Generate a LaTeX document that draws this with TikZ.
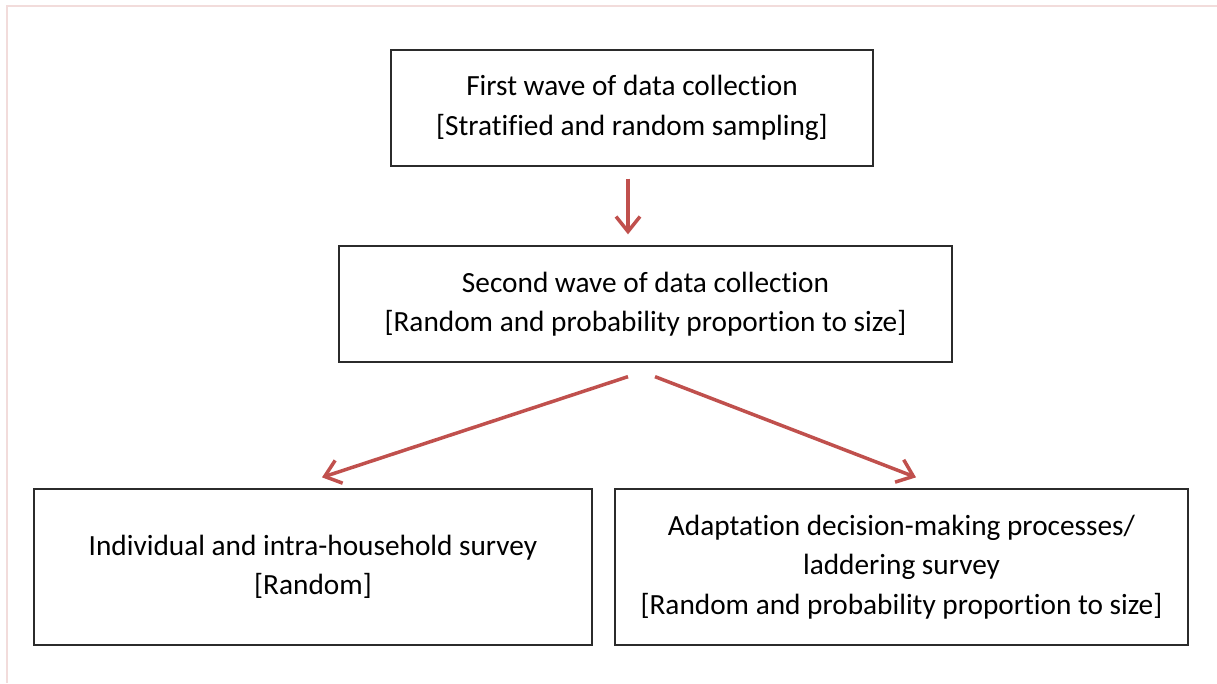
\documentclass[tikz,border=0pt]{standalone}
\usepackage{fontspec}
\setmainfont{Carlito}[Ligatures={NoCommon}]
\usetikzlibrary{arrows.meta,calc}
\definecolor{arrred}{HTML}{C0504D}
\definecolor{framepink}{HTML}{F2DCDB}
\definecolor{boxline}{HTML}{2B2B2B}
\begin{document}
\begin{tikzpicture}[x=1pt,y=-1pt,
  box/.style={draw=boxline,line width=1.3pt,align=center,inner sep=0pt,
    font=\fontsize{29.3}{39.5}\selectfont},
  arr/.style={draw=arrred,line width=3.5pt,-{Straight Barb[length=15pt,width=24pt]}}]
\useasboundingbox (0,0) rectangle (1217,683);
\draw[framepink,line width=2.2pt] (7,683) -- (7,6) -- (1217,6);
\node[box,minimum width=482pt,minimum height=116pt] (b1) at (632,108)
  {First wave of data collection\\{[Stratified and random sampling]}};
\node[box,minimum width=613pt,minimum height=116pt] (b2) at (645.5,304)
  {Second wave of data collection\\{[Random and probability proportion to size]}};
\node[box,minimum width=558pt,minimum height=156pt] (b3) at (313,567)
  {Individual and intra-household survey\\{[Random]}};
\node[box,minimum width=573pt,minimum height=156pt] (b4) at (901.5,567)
  {Adaptation decision-making processes/\\laddering survey\\{[Random and probability proportion to size]}};
\draw[arr] ([xshift=-4pt,yshift=-12pt]b1.south) -- ([xshift=-17.5pt,yshift=11pt]b2.north);
\draw[arr] ([xshift=-17.5pt,yshift=-14pt]b2.south) -- ([xshift=9pt,yshift=11pt]b3.north);
\draw[arr] ([xshift=9.5pt,yshift=-14pt]b2.south) -- ([xshift=14.5pt,yshift=11pt]b4.north);
\end{tikzpicture}
\end{document}
